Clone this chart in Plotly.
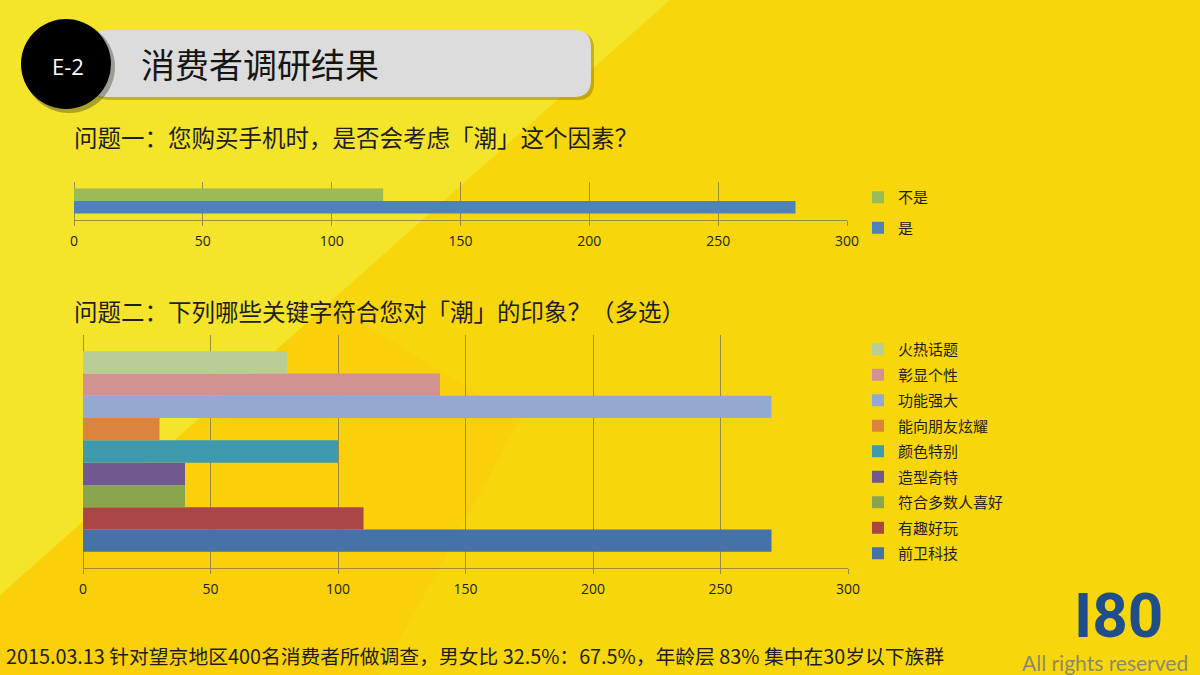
import plotly.graph_objects as go

W, H = 1200, 675


def px(x):
    return x / W


def py(y):
    return 1 - y / H


# ---------------- data ----------------
q1_names = ["是", "不是"]            # bottom -> top
q1_values = [280, 120]
q1_colors = ["#4F81BD", "#9BBB59"]

q2_names = ["前卫科技", "有趣好玩", "符合多数人喜好", "造型奇特", "颜色特别",
            "能向朋友炫耀", "功能强大", "彰显个性", "火热话题"]   # bottom -> top
q2_values = [270, 110, 40, 40, 100, 30, 270, 140, 80]
q2_colors = ["#4572A7", "#AA4643", "#89A54E", "#71588F", "#3F9AAE",
             "#DB843D", "#93A9D1", "#D19392", "#B9CD96"]

x_ticks = [0, 50, 100, 150, 200, 250, 300]

title_text = "消费者调研结果"
badge_text = "E-2"
q1_text = "问题一：您购买手机时，是否会考虑「潮」这个因素？"
q2_text = "问题二：下列哪些关键字符合您对「潮」的印象？（多选）"
footer_text = "2015.03.13 针对望京地区400名消费者所做调查，男女比 32.5%：67.5%，年龄层 83% 集中在30岁以下族群"
logo_text = "I80"
rights_text = "All rights reserved"

CJK = "Noto Sans CJK SC"
GRID = "rgba(120,115,80,0.75)"

fig = go.Figure()

for i, (n, v, c) in enumerate(zip(q1_names, q1_values, q1_colors)):
    fig.add_trace(go.Bar(x=[v], y=["Q1"], orientation="h", name=n, marker_color=c,
                         marker_line_width=0, xaxis="x", yaxis="y",
                         legend="legend", legendgroup=n,
                         legendrank=100 + len(q1_names) - i))

for i, (n, v, c) in enumerate(zip(q2_names, q2_values, q2_colors)):
    fig.add_trace(go.Bar(x=[v], y=["Q2"], orientation="h", name=n, marker_color=c,
                         marker_line_width=0, xaxis="x2", yaxis="y2",
                         legend="legend2", legendgroup=n,
                         legendrank=100 + len(q2_names) - i))

axis_common = dict(range=[0, 300], tickvals=x_ticks, showgrid=True, gridcolor=GRID,
                   gridwidth=1, showline=True, linecolor=GRID, linewidth=1,
                   ticks="outside", ticklen=5, tickcolor=GRID, zeroline=True,
                   zerolinecolor=GRID, zerolinewidth=1, automargin=False,
                   tickfont=dict(family="Open Sans", size=14, color="#24240c"),
                   ticklabelstandoff=3, fixedrange=True)

shapes = []
# background lighter triangle
shapes.append(dict(type="path", xref="paper", yref="paper", layer="below",
                   path=f"M {px(0)},{py(0)} L {px(670)},{py(0)} L {px(0)},{py(595)} Z",
                   fillcolor="#F4E52A", line_width=0))
# subtle warmer zone along the lower-left of the diagonal
shapes.append(dict(type="path", xref="paper", yref="paper", layer="below",
                   path=(f"M {px(0)},{py(596)} L {px(330)},{py(303)} L {px(520)},{py(420)} "
                         f"L {px(380)},{py(675)} L {px(0)},{py(675)} Z"),
                   fillcolor="rgba(255,185,0,0.22)", line_width=0))


def rrect(x0, y0, x1, y1, r):
    return (f"M {px(x0 + r)},{py(y0)} L {px(x1 - r)},{py(y0)} "
            f"Q {px(x1)},{py(y0)} {px(x1)},{py(y0 + r)} "
            f"L {px(x1)},{py(y1 - r)} Q {px(x1)},{py(y1)} {px(x1 - r)},{py(y1)} "
            f"L {px(x0 + r)},{py(y1)} Q {px(x0)},{py(y1)} {px(x0)},{py(y1 - r)} "
            f"L {px(x0)},{py(y0 + r)} Q {px(x0)},{py(y0)} {px(x0 + r)},{py(y0)} Z")


# header bar shadow + bar
shapes.append(dict(type="path", xref="paper", yref="paper", layer="below",
                   path=rrect(93, 32, 594, 100, 17), fillcolor="rgba(95,85,10,0.35)", line_width=0))
shapes.append(dict(type="path", xref="paper", yref="paper", layer="below",
                   path=rrect(90, 30, 591, 97, 17), fillcolor="#DCDCDC", line_width=0))
# circle shadow + circle
shapes.append(dict(type="circle", xref="paper", yref="paper", layer="below",
                   x0=px(23), x1=px(115), y0=py(21), y1=py(113),
                   fillcolor="rgba(60,60,40,0.4)", line_width=0))
shapes.append(dict(type="circle", xref="paper", yref="paper", layer="below",
                   x0=px(21), x1=px(111), y0=py(19), y1=py(109),
                   fillcolor="#000000", line_width=0))

annotations = [
    dict(text=badge_text, x=px(68), y=py(66), xref="paper", yref="paper",
         showarrow=False, xanchor="center", yanchor="middle",
         font=dict(family="Open Sans", size=22, color="#FFFFFF")),
    dict(text=title_text, x=px(139), y=py(63), xref="paper", yref="paper",
         showarrow=False, xanchor="left", yanchor="middle",
         font=dict(family=CJK, size=34, color="#151515")),
    dict(text=q1_text, x=px(72), y=py(137), xref="paper", yref="paper",
         showarrow=False, xanchor="left", yanchor="middle",
         font=dict(family=CJK, size=23.5, color="#1e1e1e")),
    dict(text=q2_text, x=px(72), y=py(311), xref="paper", yref="paper",
         showarrow=False, xanchor="left", yanchor="middle",
         font=dict(family=CJK, size=23.5, color="#1e1e1e")),
    dict(text=footer_text, x=px(4), y=py(655), xref="paper", yref="paper",
         showarrow=False, xanchor="left", yanchor="middle",
         font=dict(family=CJK, size=19.8, color="#1e1e1e")),
    dict(text=f"<b>{logo_text}</b>", x=px(1118), y=py(615), xref="paper", yref="paper",
         showarrow=False, xanchor="center", yanchor="middle",
         font=dict(family="Roboto", size=62, color="#1F4E8A")),
    dict(text=rights_text, x=px(1190), y=py(662), xref="paper", yref="paper",
         showarrow=False, xanchor="right", yanchor="middle",
         font=dict(family="Lato", size=21, color="#8C8A6A")),
]

legend_common = dict(traceorder="grouped", bgcolor="rgba(0,0,0,0)",
                     font=dict(family=CJK, size=15, color="#1e1e1e"),
                     itemwidth=30, xanchor="left", yanchor="top",
                     itemclick=False, itemdoubleclick=False)

fig.update_layout(
    template="none",
    width=W, height=H, autosize=False,
    margin=dict(l=0, r=0, t=0, b=0, pad=0),
    paper_bgcolor="#F8D60C", plot_bgcolor="rgba(0,0,0,0)",
    barmode="group", bargap=0.14, bargroupgap=0,
    xaxis=dict(domain=[px(74), px(847)], anchor="y", **axis_common),
    yaxis=dict(domain=[py(220), py(182)], anchor="x", range=[-0.654, 0.654],
               showticklabels=False, showgrid=False, zeroline=False, showline=False,
               ticks="", automargin=False, fixedrange=True),
    xaxis2=dict(domain=[px(83), px(848)], anchor="y2", **axis_common),
    yaxis2=dict(domain=[py(568), py(335)], anchor="x2", range=[-0.5, 0.5],
                showticklabels=False, showgrid=False, zeroline=False, showline=False,
                ticks="", automargin=False, fixedrange=True),
    legend=dict(x=px(858), y=py(181), tracegroupgap=8, **legend_common),
    legend2=dict(x=px(858), y=py(333), tracegroupgap=3, **legend_common),
    shapes=shapes,
    annotations=annotations,
    showlegend=True,
)

fig.write_html("out.html",
               config={"displayModeBar": False, "responsive": False},
               post_script="document.body.style.margin='0';document.body.style.padding='0';"
                           "document.body.style.overflow='hidden';")
